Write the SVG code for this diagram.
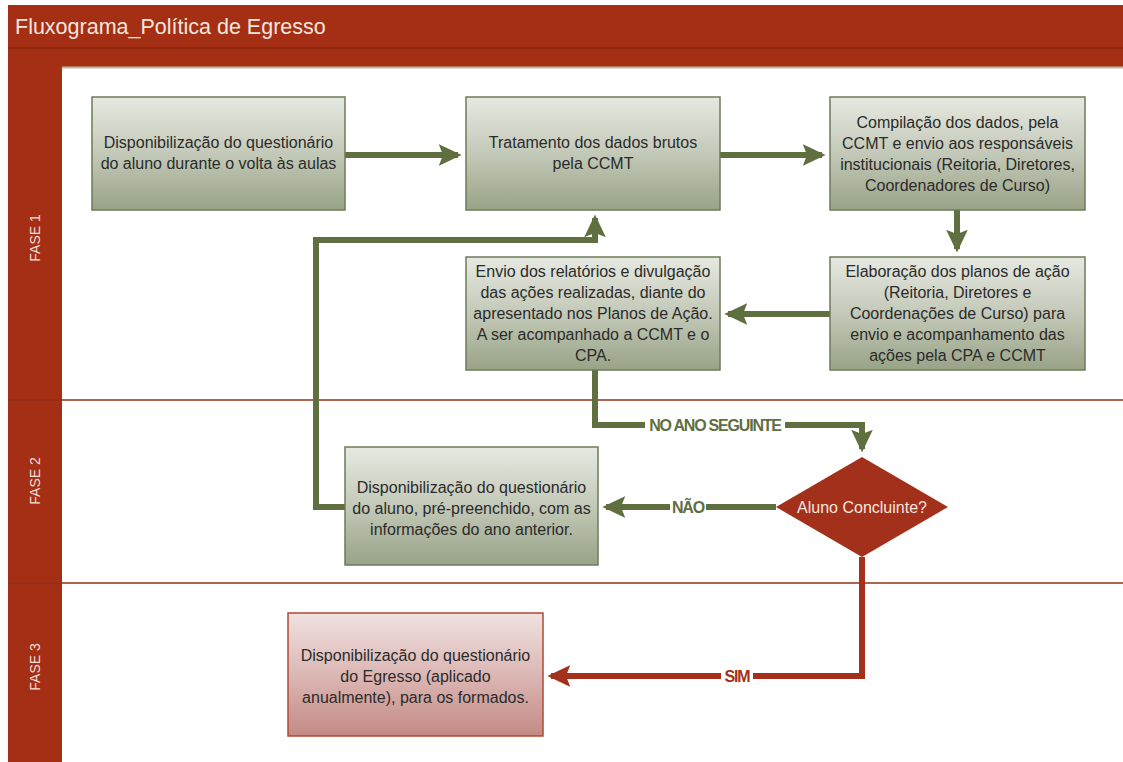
<svg xmlns="http://www.w3.org/2000/svg" width="1123" height="762" viewBox="0 0 1123 762">
<defs>
<linearGradient id="gg" x1="0" y1="0" x2="0" y2="1">
<stop offset="0" stop-color="#e6e9e1"/>
<stop offset="0.5" stop-color="#c3c9b8"/>
<stop offset="1" stop-color="#98a386"/>
</linearGradient>
<linearGradient id="rg" x1="0" y1="0" x2="0" y2="1">
<stop offset="0" stop-color="#efe2e1"/>
<stop offset="0.5" stop-color="#dcb7b4"/>
<stop offset="1" stop-color="#c48a84"/>
</linearGradient>
<marker id="ag" markerWidth="4" markerHeight="4" refX="3.2" refY="2" orient="auto" markerUnits="strokeWidth" viewBox="0 0 4 4">
<path d="M0,0.2 L3.8,2 L0,3.8 L0.7,2 Z" fill="#5f6f3f"/>
</marker>
<marker id="ar" markerWidth="4" markerHeight="4" refX="3.2" refY="2" orient="auto" markerUnits="strokeWidth" viewBox="0 0 4 4">
<path d="M0,0.2 L3.8,2 L0,3.8 L0.7,2 Z" fill="#a3301a"/>
</marker>
</defs>
<style>
.t{font-family:"Liberation Sans",Arial,sans-serif;font-size:16px;fill:#2b2b2b;text-anchor:middle}
.gb{fill:url(#gg);stroke:#6e7b58;stroke-width:1.5}
.rb{fill:url(#rg);stroke:#b04a35;stroke-width:1.5}
.cg{fill:none;stroke:#5f6f3f;stroke-width:6}
.cr{fill:none;stroke:#a3301a;stroke-width:6}
.lbl{font-family:"Liberation Sans",Arial,sans-serif;font-size:16px;font-weight:bold;letter-spacing:-1.2px;text-anchor:middle}
.lane{font-family:"Liberation Sans",Arial,sans-serif;font-size:14px;fill:#f3ded6;text-anchor:middle}
</style>
<rect width="1123" height="762" fill="#ffffff"/>
<rect x="8" y="5" width="1115" height="62" fill="#a52f14"/>
<line x1="8" y1="48" x2="1123" y2="48" stroke="#8e2710" stroke-width="1.5"/>
<line x1="8" y1="67.5" x2="1123" y2="67.5" stroke="#b9b8a8" stroke-width="2"/>
<rect x="8" y="66" width="54" height="696" fill="#a52f14"/>
<text x="15" y="34" font-family="Liberation Sans,Arial,sans-serif" font-size="21.5" fill="#f5e6df">Fluxograma_Política de Egresso</text>
<line x1="8" y1="400" x2="1123" y2="400" stroke="#93301a" stroke-width="1.5"/>
<line x1="8" y1="583" x2="1123" y2="583" stroke="#93301a" stroke-width="1.5"/>
<text class="lane" transform="translate(40,238) rotate(-90)">FASE 1</text>
<text class="lane" transform="translate(40,481) rotate(-90)">FASE 2</text>
<text class="lane" transform="translate(40,667) rotate(-90)">FASE 3</text>

<g id="connectors">
<path class="cg" d="M345,155 H458" marker-end="url(#ag)"/>
<path class="cg" d="M720,155 H822" marker-end="url(#ag)"/>
<path class="cg" d="M957,210 V249" marker-end="url(#ag)"/>
<path class="cg" d="M830,314 H728" marker-end="url(#ag)"/>
<path class="cg" d="M595,370 V425 H862 V449" marker-end="url(#ag)"/>
<path class="cg" d="M776,507 H606" marker-end="url(#ag)"/>
<path class="cg" d="M345,507 H316 V240 H595 V218" marker-end="url(#ag)"/>
<path class="cr" d="M862,557 V676 H551" marker-end="url(#ar)"/>
<rect x="645" y="416" width="140" height="18" fill="#ffffff"/>
<text class="lbl" x="715" y="431" fill="#5f6f3f">NO ANO SEGUINTE</text>
<rect x="670" y="498" width="36" height="18" fill="#ffffff"/>
<text class="lbl" x="688" y="513" fill="#5f6f3f">NÃO</text>
<rect x="721" y="667" width="32" height="18" fill="#ffffff"/>
<text class="lbl" x="737" y="682" fill="#a3301a">SIM</text>
</g>

<g id="n1">
<rect class="gb" x="92" y="97" width="253" height="113"/>
<text class="t" x="218.5" y="148">Disponibilização do questionário</text>
<text class="t" x="218.5" y="169">do aluno durante o volta às aulas</text>
</g>
<g id="n2">
<rect class="gb" x="466" y="97" width="254" height="113"/>
<text class="t" x="593" y="148">Tratamento dos dados brutos</text>
<text class="t" x="593" y="169">pela CCMT</text>
</g>
<g id="n3">
<rect class="gb" x="830" y="97" width="255" height="113"/>
<text class="t" x="957.5" y="128">Compilação dos dados, pela</text>
<text class="t" x="957.5" y="149">CCMT e envio aos responsáveis</text>
<text class="t" x="957.5" y="170">institucionais (Reitoria, Diretores,</text>
<text class="t" x="957.5" y="191">Coordenadores de Curso)</text>
</g>
<g id="n4">
<rect class="gb" x="830" y="257" width="255" height="113"/>
<text class="t" x="957.5" y="277">Elaboração dos planos de ação</text>
<text class="t" x="957.5" y="298">(Reitoria, Diretores e</text>
<text class="t" x="957.5" y="319">Coordenações de Curso) para</text>
<text class="t" x="957.5" y="340">envio e acompanhamento das</text>
<text class="t" x="957.5" y="361">ações pela CPA e CCMT</text>
</g>
<g id="n5">
<rect class="gb" x="466" y="257" width="254" height="113"/>
<text class="t" x="593" y="277">Envio dos relatórios e divulgação</text>
<text class="t" x="593" y="298">das ações realizadas, diante do</text>
<text class="t" x="593" y="319">apresentado nos Planos de Ação.</text>
<text class="t" x="593" y="340">A ser acompanhado a CCMT e o</text>
<text class="t" x="593" y="361">CPA.</text>
</g>
<g id="n6">
<rect class="gb" x="345" y="447" width="253" height="118"/>
<text class="t" x="471.5" y="493">Disponibilização do questionário</text>
<text class="t" x="471.5" y="514">do aluno, pré-preenchido, com as</text>
<text class="t" x="471.5" y="535">informações do ano anterior.</text>
</g>
<g id="n7">
<polygon points="862,457 948,507 862,557 776,507" fill="#a3301a"/>
<text x="862" y="513" font-family="Liberation Sans,Arial,sans-serif" font-size="16" fill="#f5e6df" text-anchor="middle">Aluno Concluinte?</text>
</g>
<g id="n8">
<rect class="rb" x="288" y="613" width="255" height="123"/>
<text class="t" x="415.5" y="661">Disponibilização do questionário</text>
<text class="t" x="415.5" y="682">do Egresso (aplicado</text>
<text class="t" x="415.5" y="703">anualmente), para os formados.</text>
</g>
</svg>
